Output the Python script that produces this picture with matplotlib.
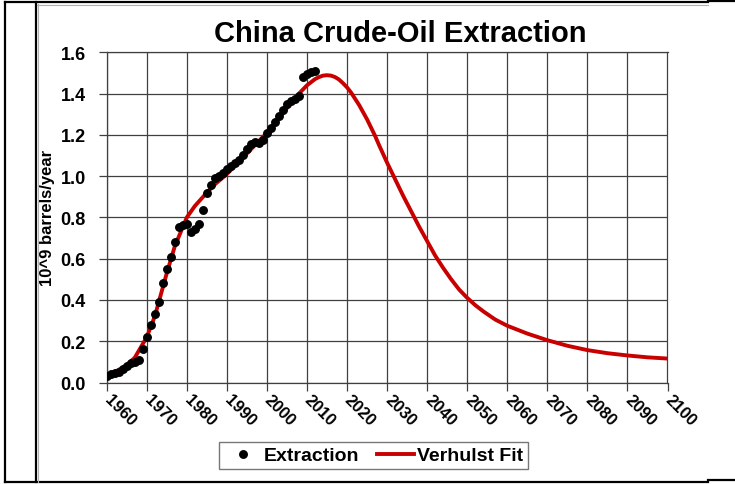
import matplotlib
matplotlib.use("Agg")
import matplotlib.pyplot as plt
from matplotlib.lines import Line2D

plt.rcParams['font.family'] = ['Liberation Sans', 'DejaVu Sans']

# observed extraction, 10^9 barrels/year
obs_years = list(range(1960, 2013))
extraction = [0.03, 0.04, 0.045, 0.05, 0.065, 0.08, 0.095, 0.10, 0.11, 0.16,
              0.22, 0.28, 0.33, 0.39, 0.48, 0.55, 0.61, 0.68, 0.755, 0.765,
              0.77, 0.73, 0.745, 0.77, 0.835, 0.92, 0.955, 0.99, 1.00, 1.015,
              1.035, 1.05, 1.065, 1.08, 1.10, 1.13, 1.155, 1.165, 1.16, 1.175,
              1.21, 1.235, 1.26, 1.29, 1.32, 1.35, 1.365, 1.375, 1.39, 1.48,
              1.495, 1.505, 1.51]

# Verhulst fit
fit_years = [1960, 1962, 1965, 1967, 1970, 1972, 1975, 1977, 1980, 1982,
             1985, 1987, 1990, 1993, 1995, 1998, 2000, 2003, 2005, 2008,
             2010, 2011, 2012, 2013, 2014, 2015, 2016, 2017, 2018, 2019,
             2020, 2021, 2022, 2023, 2024, 2025, 2026, 2027, 2028, 2030,
             2032, 2034, 2036, 2038, 2040, 2042, 2044, 2046, 2048, 2050,
             2052, 2054, 2057, 2060, 2065, 2070, 2075, 2080, 2085, 2090, 2095, 2100]
fit_values = [0.03, 0.05, 0.085, 0.12, 0.22, 0.32, 0.53, 0.66, 0.80, 0.855,
              0.92, 0.96, 1.01, 1.07, 1.11, 1.17, 1.21, 1.28, 1.33, 1.40,
              1.44, 1.455, 1.47, 1.48, 1.487, 1.489, 1.487, 1.48, 1.468, 1.45,
              1.43, 1.405, 1.375, 1.345, 1.31, 1.275, 1.235, 1.195, 1.15, 1.065,
              0.985, 0.905, 0.83, 0.755, 0.685, 0.615, 0.555, 0.50, 0.45, 0.41,
              0.375, 0.345, 0.305, 0.275, 0.237, 0.205, 0.178, 0.157, 0.142, 0.131,
              0.122, 0.116]

x_ticks = list(range(1960, 2101, 10))
y_ticks = [0.0, 0.2, 0.4, 0.6, 0.8, 1.0, 1.2, 1.4, 1.6]

W, H = 735, 485
fig = plt.figure(figsize=(W / 100, H / 100), dpi=100)
ax = fig.add_axes([106.7 / W, 1 - 383.5 / H, (667.5 - 106.7) / W, (383.5 - 53.3) / H])

grid_c = '#404040'
ax.plot(obs_years, extraction, 'o', color='black', ms=5.4, zorder=3,
        label='Extraction')
ax.plot(fit_years, fit_values, '-', color='#c80000', lw=2.8, zorder=2,
        label='Verhulst Fit')

ax.set_xlim(1960, 2100)
ax.set_ylim(0, 1.6)
ax.set_xticks(x_ticks)
ax.set_yticks(y_ticks)
ax.set_yticklabels([f'{v:.1f}' for v in y_ticks], fontsize=13, fontweight='bold')
ax.set_xticklabels([str(v) for v in x_ticks], fontsize=12, fontweight='bold',
                   rotation=-45, ha='left', va='center', rotation_mode='anchor')
ax.tick_params(axis='both', direction='out', length=6, width=0.9, color=grid_c)
ax.tick_params(axis='y', pad=9)
ax.tick_params(axis='x', pad=4)
ax.grid(True, color=grid_c, lw=0.9)
ax.set_axisbelow(True)
for s in ax.spines.values():
    s.set_color(grid_c)
    s.set_linewidth(0.9)

ax.set_ylabel('10^9 barrels/year', fontsize=12, fontweight='bold', labelpad=4)

fig.text(400 / W, 1 - 41.7 / H, 'China Crude-Oil Extraction', fontsize=21,
         fontweight='bold', ha='center', va='baseline')

leg = fig.legend(loc='center', bbox_to_anchor=(373.5 / W, 1 - 456.5 / H), ncol=2,
                 prop={'size': 14, 'weight': 'bold'}, frameon=True, fancybox=False,
                 handlelength=1.9, handletextpad=0.15, columnspacing=0.9,
                 borderpad=0.25, borderaxespad=0, markerscale=1.0)
leg.get_frame().set_edgecolor('#555555')
leg.get_frame().set_linewidth(1.0)

# surrounding table frame
def frame_line(xs, ys, c='black', lw=1.6):
    fig.add_artist(Line2D([x / W for x in xs], [1 - y / H for y in ys],
                          color=c, lw=lw, transform=fig.transFigure))

frame_line([5, 5], [3, 483])
frame_line([36, 36], [3, 483])
frame_line([5, 708], [3, 3])
frame_line([708, 735], [1.5, 1.5])
frame_line([5, 708], [483, 483])
frame_line([708, 735], [481, 481])
frame_line([37.5, 37.5], [5, 483], c='#b0b0b0', lw=0.8)
frame_line([37, 708], [5.5, 5.5], c='#b0b0b0', lw=0.8)

fig.savefig('out.png', dpi=100)
